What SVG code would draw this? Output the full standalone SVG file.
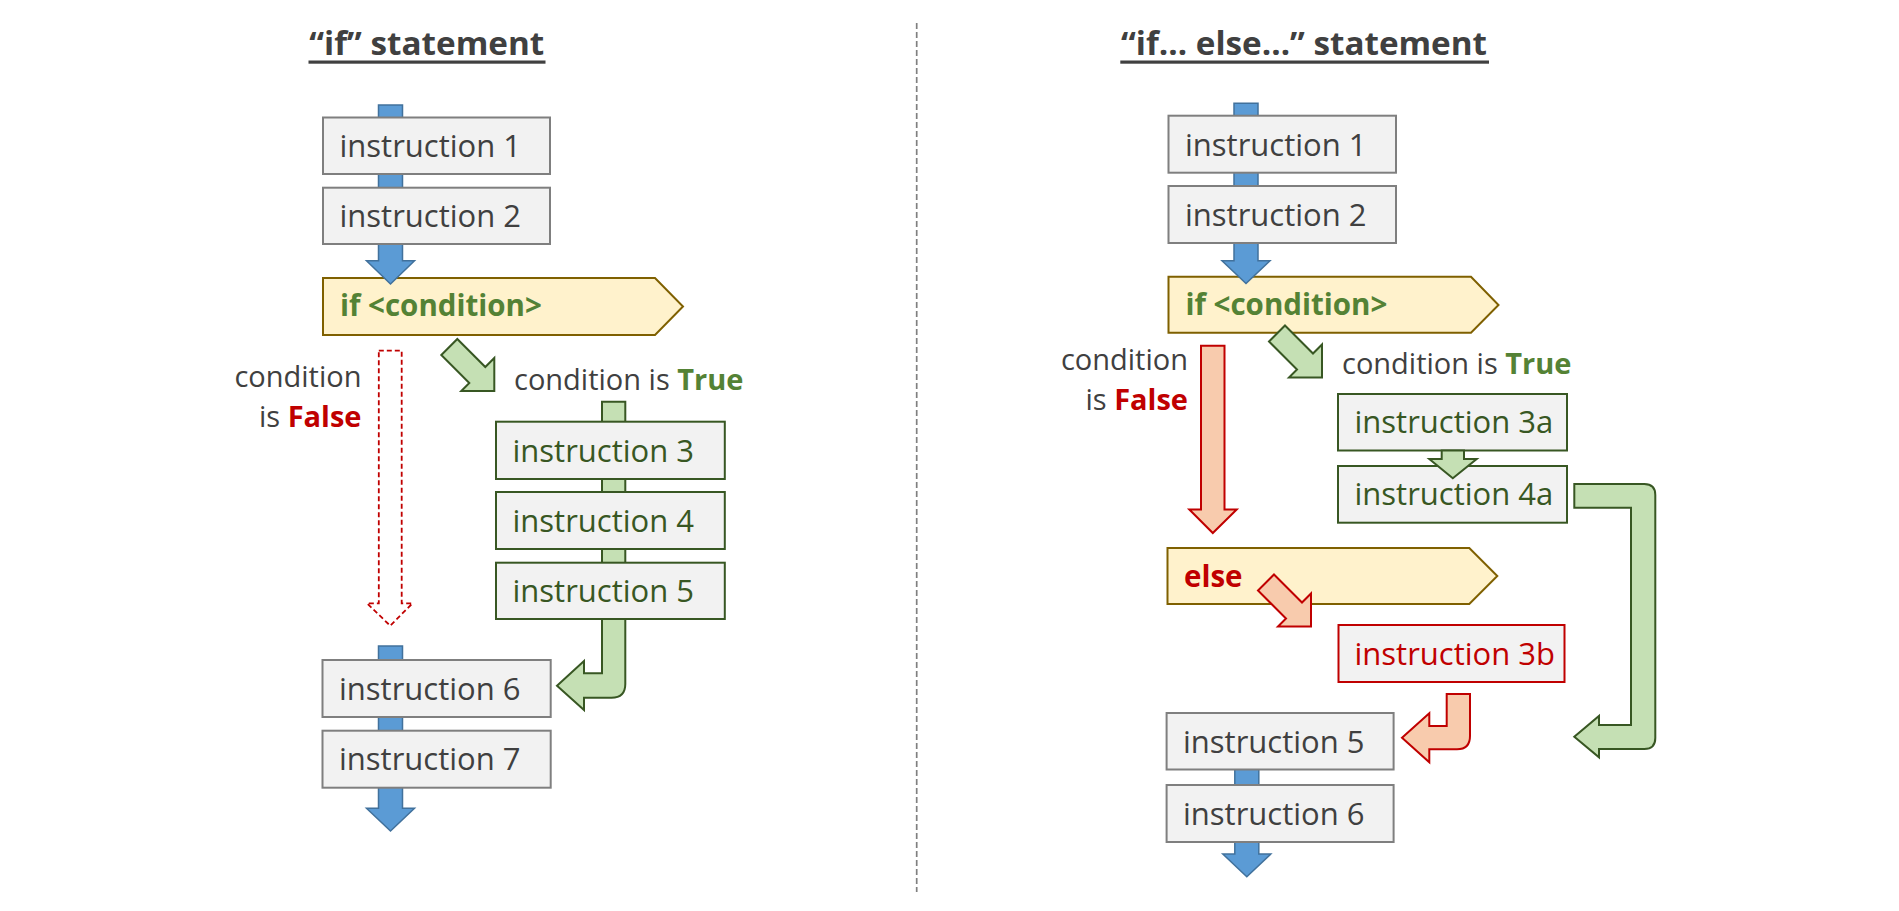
<svg xmlns="http://www.w3.org/2000/svg" width="1899" height="911" viewBox="0 0 1899 911">
<style>
text{font-family:"Open Sans","Liberation Sans",sans-serif}
.title{font-size:33px;font-weight:bold;fill:#404040}
.box{fill:#f2f2f2;stroke:#7f7f7f;stroke-width:2}
.gbox{fill:#f2f2f2;stroke:#385723;stroke-width:2}
.rbox{fill:#f2f2f2;stroke:#c00000;stroke-width:2}
.pent{fill:#fff2cc;stroke:#7f6000;stroke-width:2}
.t{font-size:31px;fill:#404040}
.tg{font-size:31px;fill:#385723}
.tr{font-size:31px;fill:#c00000}
.kw{font-size:29.5px}
.lbl{font-size:29px;fill:#404040}
.bg{font-weight:bold;fill:#548235}
.br{font-weight:bold;fill:#c00000}
.blue{fill:#5b9bd5;stroke:#41719c;stroke-width:1.5}
.green{fill:#c5e0b4;stroke:#385723;stroke-width:2}
.red{fill:#f8cbad;stroke:#c00000;stroke-width:2}
.dash{fill:#ffffff;stroke:#c00000;stroke-width:1.8;stroke-dasharray:5 3}
</style>

<g id="divider"><line x1="916.7" y1="23" x2="916.7" y2="892" stroke="#808080" stroke-width="1.7" stroke-dasharray="6 3"/></g>

<g id="title-if">
<text class="title" x="309.3" y="55" textLength="235" lengthAdjust="spacingAndGlyphs">“if” statement</text>
<rect x="308.5" y="60.5" width="237" height="3.2" fill="#404040"/>
</g>
<g id="title-ifelse">
<text class="title" x="1121" y="55" textLength="366" lengthAdjust="spacingAndGlyphs">“if… else…” statement</text>
<rect x="1120.3" y="60.5" width="368.7" height="3.2" fill="#404040"/>
</g>

<g id="L-if"><path class="pent" d="M323,278 H655 L683,306.5 L655,335 H323 Z"/>
<text class="kw bg" x="340" y="316">if &lt;condition&gt;</text></g>
<g id="R-if"><path class="pent" d="M1168.5,276.7 H1471 L1498.5,305 L1471,332.7 H1168.5 Z"/>
<text class="kw bg" x="1185.5" y="314.5">if &lt;condition&gt;</text></g>
<g id="R-else"><path class="pent" d="M1167.5,548 H1469.3 L1497.3,576 L1469.3,604 H1167.5 Z"/>
<text class="kw br" x="1184" y="586.5">else</text></g>

<g id="connectors">
<path class="blue" d="M378.5,105 H402.5 V260.7 H414.5 L390.5,284 L366.5,260.7 H378.5 Z"/>
<path class="blue" d="M378.5,646 H402.5 V808.3 H414.5 L390.5,831 L366.5,808.3 H378.5 Z"/>
<path class="dash" d="M378.8,350.7 H401.7 V603.3 H412.5 L390.2,625.7 L367,603.3 H378.8 Z"/>
<polygon class="green" points="457.3,339 485.3,367 494.3,358 494.3,391 461.3,391 469.3,383 441.3,355"/>
<path class="green" d="M602,401.7 H625.3 V684 Q625.3,697.7 611.5,697.7 H584 V710 L557,685.7 L584,661 V673.3 H602 Z"/>
<path class="blue" d="M1234,103.3 H1258 V260.7 H1270 L1246,283.5 L1222,260.7 H1234 Z"/>
<path class="blue" d="M1234.8,769 H1258.8 V854 H1270.8 L1246.8,876.7 L1222.8,854 H1234.8 Z"/>
<polygon class="green" points="1285,325.5 1313,353.5 1322,344.5 1322,377.5 1289,377.5 1297,369.5 1269,341.5"/>
<path class="red" d="M1201,345.7 H1224.5 V509.5 H1236.7 L1212.8,533 L1189.3,509.5 H1201 Z"/>
<polygon class="red" points="1274,574.5 1302,602.5 1311,593.5 1311,626.5 1278,626.5 1286,618.5 1258,590.5"/>
<path class="green" d="M1574.3,484 H1644.3 Q1655.3,484 1655.3,495 V738 Q1655.3,749 1644.3,749 H1599 V757.3 L1574.3,736.7 L1599,716 V725 H1631 V507.7 H1574.3 Z"/>
<path class="red" d="M1446.7,694 H1470 V736 Q1470,749.3 1457,749.3 H1429.3 V762.3 L1402,737.7 L1429.3,713.3 V726 H1446.7 Z"/>
</g>

<g id="L-i1"><rect class="box" x="323" y="117.5" width="227" height="56.5"/><text class="t" x="339.5" y="157">instruction 1</text></g>
<g id="L-i2"><rect class="box" x="323" y="187.7" width="227" height="56.3"/><text class="t" x="339.5" y="227">instruction 2</text></g>
<g id="L-false-label"><text class="lbl" x="361.5" y="386.7" text-anchor="end">condition</text>
<text class="lbl" x="361.5" y="427" text-anchor="end">is <tspan class="br">False</tspan></text></g>
<g id="L-true-label"><text class="lbl" x="514" y="390">condition is <tspan class="bg">True</tspan></text></g>
<g id="L-i3"><rect class="gbox" x="496" y="421.7" width="228.8" height="57.3"/><text class="tg" x="512.5" y="461.5">instruction 3</text></g>
<g id="L-i4"><rect class="gbox" x="496" y="492" width="228.8" height="57"/><text class="tg" x="512.5" y="531.5">instruction 4</text></g>
<g id="L-i5"><rect class="gbox" x="496" y="562.7" width="228.8" height="56.3"/><text class="tg" x="512.5" y="602">instruction 5</text></g>
<g id="L-i6"><rect class="box" x="322.5" y="660" width="228.2" height="57"/><text class="t" x="339" y="699.5">instruction 6</text></g>
<g id="L-i7"><rect class="box" x="322.5" y="730.7" width="228.2" height="57"/><text class="t" x="339" y="770">instruction 7</text></g>

<g id="R-i1"><rect class="box" x="1168.5" y="115.7" width="227.5" height="57"/><text class="t" x="1185" y="155.5">instruction 1</text></g>
<g id="R-i2"><rect class="box" x="1168.5" y="186" width="227.5" height="57"/><text class="t" x="1185" y="225.5">instruction 2</text></g>
<g id="R-false-label"><text class="lbl" x="1188" y="369.5" text-anchor="end">condition</text>
<text class="lbl" x="1188" y="410" text-anchor="end">is <tspan class="br">False</tspan></text></g>
<g id="R-true-label"><text class="lbl" x="1342" y="373.5">condition is <tspan class="bg">True</tspan></text></g>
<g id="R-i3a"><rect class="gbox" x="1338" y="394" width="229" height="56.5"/><text class="tg" x="1354.5" y="433">instruction 3a</text></g>
<g id="R-i4a"><rect class="gbox" x="1338" y="466" width="229" height="56.7"/><text class="tg" x="1354.5" y="505">instruction 4a</text></g>
<g id="R-i3b"><rect class="rbox" x="1338.5" y="625" width="226" height="57"/><text class="tr" x="1354.5" y="664.5">instruction 3b</text></g>
<g id="R-i5"><rect class="box" x="1166.6" y="713" width="227" height="56.5"/><text class="t" x="1183" y="752.5">instruction 5</text></g>
<g id="R-i6"><rect class="box" x="1166.6" y="785" width="227" height="57"/><text class="t" x="1183" y="824.5">instruction 6</text></g>

<g id="connectors-front"><path class="green" d="M1441.7,450.5 H1464 V459 H1476.7 L1452.8,478.3 L1429.3,459 H1441.7 Z"/></g>
</svg>
